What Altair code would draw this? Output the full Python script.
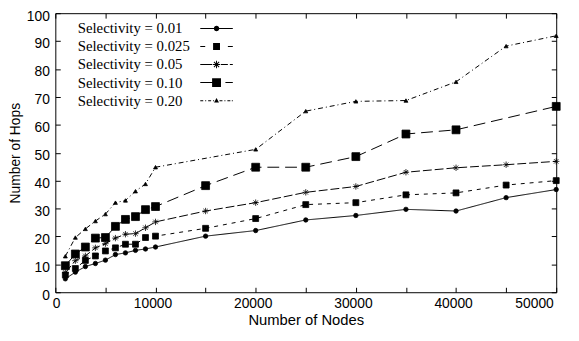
import altair as alt
import pandas as pd

nodes = [1000, 2000, 3000, 4000, 5000, 6000, 7000, 8000, 9000, 10000,
         15000, 20000, 25000, 30000, 35000, 40000, 45000, 50000]
series = ["Selectivity = 0.01", "Selectivity = 0.025", "Selectivity = 0.05",
          "Selectivity = 0.10", "Selectivity = 0.20"]
hops_001 = [4.8, 7.2, 9.2, 10.3, 11.5, 13.5, 14.1, 15.0, 15.5, 16.2,
            20.1, 22.1, 25.9, 27.5, 29.7, 29.1, 33.9, 36.8]
hops_0025 = [6.2, 8.5, 11.4, 13.0, 14.8, 15.9, 17.2, 17.2, 19.6, 20.1,
             22.9, 26.4, 31.4, 32.1, 34.9, 35.6, 38.4, 40.0]
hops_005 = [7.0, 11.3, 13.0, 15.9, 17.4, 19.4, 20.8, 21.0, 23.1, 25.2,
            29.1, 32.1, 35.8, 37.9, 43.0, 44.6, 45.7, 46.9]
hops_010 = [9.5, 13.7, 16.2, 19.4, 19.6, 23.6, 26.1, 27.1, 29.6, 30.7,
            38.2, 44.8, 44.8, 48.6, 56.7, 58.2, None, 66.6]
hops_020 = [12.9, 19.6, 22.7, 25.5, 28.0, 32.1, 32.9, 36.2, 38.8, 44.8,
            None, 51.2, 64.9, 68.4, 68.7, 75.4, 88.2, 91.9]
x_ticks = [0, 5000, 10000, 15000, 20000, 25000, 30000, 35000, 40000, 45000, 50000]
y_ticks = [0, 10, 20, 30, 40, 50, 60, 70, 80, 90, 100]

rows = []
for name, vals in zip(series, [hops_001, hops_0025, hops_005, hops_010, hops_020]):
    for n, v in zip(nodes, vals):
        if v is not None:
            rows.append({"nodes": n, "hops": v, "series": name})
df = pd.DataFrame(rows)

W, H = 508, 283

star = "M-1,0H1M0,-1V1M-0.7,-0.7L0.7,0.7M-0.7,0.7L0.7,-0.7"
dashes = [[1, 0], [4, 5], [9, 3], [12, 6], [5, 3, 1, 3]]
shapes = ["circle", "square", star, "square", "triangle-up"]
sizes = [20, 36, 42, 64, 16]


# legend sample glyphs: filled segments + filled marker (unit box, scaled by 5px)
def seg(a, b):
    return f"M{a},-0.1H{b}V0.1H{a}Z"


circ = "M-0.55,0A0.55,0.55,0,1,1,0.55,0A0.55,0.55,0,1,1,-0.55,0Z"
sq_s = "M-0.7,-0.7H0.7V0.7H-0.7Z"
sq_l = "M-0.9,-0.9H0.9V0.9H-0.9Z"
tri = "M0,-0.55L0.5,0.4H-0.5Z"
star_f = ("M-0.75,-0.1H0.75V0.1H-0.75Z" "M-0.1,-0.75H0.1V0.75H-0.1Z"
          "M-0.46,-0.6L0.6,0.46L0.46,0.6L-0.6,-0.46Z"
          "M-0.6,0.46L0.46,-0.6L0.6,-0.46L-0.46,0.6Z")
leg_paths = [
    seg(-3.3, 3.3) + circ,
    seg(-3.3, -2.3) + sq_s + seg(2.3, 3.3),
    seg(-3.3, -0.9) + star_f + seg(0.9, 2.3) + seg(2.7, 3.3),
    seg(-3.3, -0.9) + sq_l + seg(1.8, 3.3),
    seg(-3.3, -2.7) + seg(-2.3, -2.1) + seg(-1.7, -1.1) + seg(-0.7, -0.5) + tri
    + seg(0.6, 1.2) + seg(1.6, 1.8) + seg(2.2, 2.8) + seg(3.1, 3.3),
]
expr = ""
for s, p in zip(series, leg_paths):
    expr += f"datum.value == '{s}' ? '{p}' : "
expr += "'circle'"

xscale = alt.Scale(domain=[0, 50000], nice=False)
yscale = alt.Scale(domain=[0, 100], nice=False)

base = alt.Chart(df)

lines = base.mark_line(color="black", strokeWidth=1).encode(
    x=alt.X("nodes:Q", scale=xscale,
            axis=alt.Axis(orient="bottom", values=x_ticks, format="d", ticks=False,
                          domain=False, grid=False, labelPadding=5,
                          labelOffset={"expr": "-3"},
                          title="Number of Nodes", titleY=33,
                          titleBaseline="alphabetic", titleFontSize=15)),
    y=alt.Y("hops:Q", scale=yscale,
            axis=alt.Axis(orient="left", values=y_ticks, ticks=False, domain=False,
                          grid=False, labelPadding=6, labelOffset=3,
                          title="Number of Hops", titleX=-40, titleY=H / 2,
                          titleBaseline="middle")),
    strokeDash=alt.StrokeDash(
        "series:N", sort=series,
        scale=alt.Scale(domain=series, range=dashes),
        legend=alt.Legend(title=None, orient="none", legendX=8, legendY=8,
                          symbolType={"expr": expr}, symbolSize=100,
                          symbolStrokeWidth=0, symbolStrokeColor="transparent",
                          symbolFillColor="black", symbolOffset=148,
                          labelFont="Liberation Serif", labelFontSize=15,
                          labelColor="black", labelAlign="left",
                          labelOffset={"expr": "-148.3"}, labelLimit=300,
                          rowPadding=2.3, padding=0)),
)

tick_axes = [
    (alt.Axis(orient="top", offset=-H, values=x_ticks, labels=False, tickSize=5,
              domain=False, grid=False, title=None),
     alt.Axis(orient="right", offset=-W, values=y_ticks, labels=False, tickSize=5,
              domain=False, grid=False, title=None)),
    (alt.Axis(orient="bottom", offset=-H, values=x_ticks, labels=False, tickSize=5,
              domain=False, grid=False, title=None),
     alt.Axis(orient="left", offset=-W, values=y_ticks, labels=False, tickSize=5,
              domain=False, grid=False, title=None)),
]

layers = [lines]
for k, s in enumerate(series):
    if k < len(tick_axes):
        xa, ya = tick_axes[k]
    else:
        xa, ya = None, None
    layers.append(
        base.transform_filter(alt.datum.series == s)
        .mark_point(filled=True, fill="black", stroke="black", strokeWidth=0.8,
                    opacity=1, shape=shapes[k], size=sizes[k])
        .encode(
            x=alt.X("nodes:Q", scale=xscale, axis=xa),
            y=alt.Y("hops:Q", scale=yscale, axis=ya),
        )
    )

chart = alt.layer(*layers).resolve_axis(
    x="independent", y="independent"
).properties(
    width=W, height=H,
    autosize=alt.AutoSizeParams(type="none"),
    padding={"left": 48, "top": 3, "right": 15, "bottom": 33},
).configure_view(
    stroke="black", strokeWidth=1
).configure_axis(
    labelFont="Liberation Sans", labelFontSize=14, labelColor="black",
    titleFont="Liberation Sans", titleFontSize=14, titleFontWeight="normal",
    titleColor="black", tickColor="black", tickWidth=1
)

chart.save("out.html", embed_options={"renderer": "svg", "actions": False})
